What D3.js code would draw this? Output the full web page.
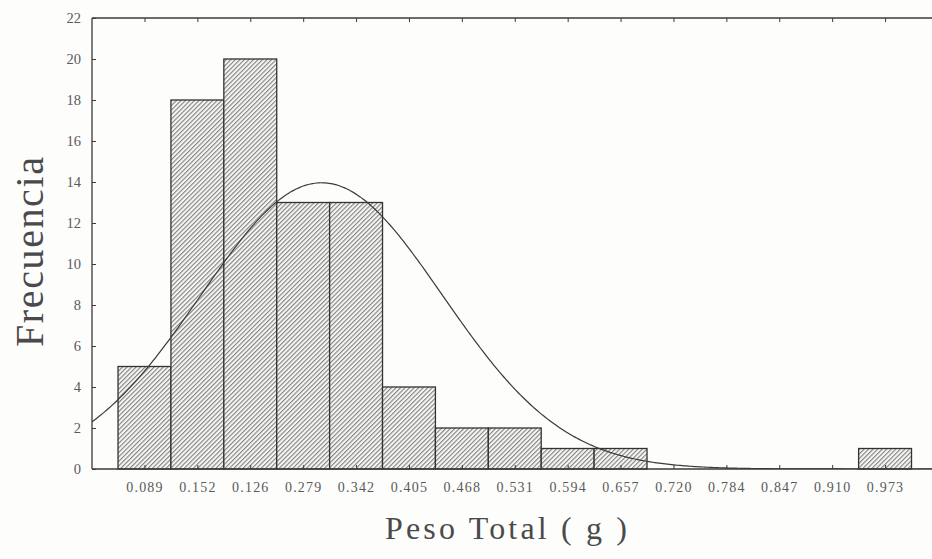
<!DOCTYPE html>
<html>
<head>
<meta charset="utf-8">
<script src="https://cdn.jsdelivr.net/npm/d3@7/dist/d3.min.js"></script>
<style>
  html, body { margin: 0; padding: 0; background: #fdfdfc; }
  svg { display: block; }
  text { font-family: "Liberation Serif", "DejaVu Serif", serif; }
</style>
</head>
<body>
<svg id="chart" width="932" height="559"></svg>
<script>
// Histogram of total weight (g), 15 classes
const binLabels = ["0.089","0.152","0.126","0.279","0.342","0.405","0.468","0.531",
                   "0.594","0.657","0.720","0.784","0.847","0.910","0.973"];
const counts = [5, 18, 20, 13, 13, 4, 2, 2, 1, 1, 0, 0, 0, 0, 1];
const yTicks = [0, 2, 4, 6, 8, 10, 12, 14, 16, 18, 20, 22];

// class layout in data units (class width and first lower bound)
const binWidth = 0.063;
const firstEdge = 0.0575;

// fitted normal curve parameters
const fitMean = 0.300;
const fitSd = 0.144;

const svg = d3.select("#chart");
const plotLeft = 92, plotRight = 932, plotTop = 18, plotBottom = 469;

const x = d3.scaleLinear().domain([0.0265, 1.0269]).range([plotLeft, plotRight]);
const y = d3.scaleLinear().domain([0, 22]).range([plotBottom, plotTop]);

const bins = counts.map((c, i) => ({
  x0: firstEdge + i * binWidth,
  x1: firstEdge + (i + 1) * binWidth,
  count: c,
  label: binLabels[i]
}));

// diagonal hatching for the bars
const defs = svg.append("defs");
const pat = defs.append("pattern")
  .attr("id", "hatch")
  .attr("patternUnits", "userSpaceOnUse")
  .attr("width", 3.2).attr("height", 3.2)
  .attr("patternTransform", "rotate(45)");
pat.append("rect").attr("width", 3.2).attr("height", 3.2).attr("fill", "#f6f6f4");
pat.append("line").attr("x1", 0.6).attr("y1", 0).attr("x2", 0.6).attr("y2", 3.2)
  .attr("stroke", "#6e6e6e").attr("stroke-width", 0.95);

defs.append("clipPath").attr("id", "plotClip")
  .append("rect").attr("x", plotLeft).attr("y", plotTop)
  .attr("width", plotRight - plotLeft).attr("height", plotBottom - plotTop);

// bars
svg.append("g").selectAll("rect")
  .data(bins.filter(d => d.count > 0))
  .join("rect")
  .attr("x", d => x(d.x0))
  .attr("y", d => y(d.count))
  .attr("width", d => x(d.x1) - x(d.x0))
  .attr("height", d => y(0) - y(d.count))
  .attr("fill", "url(#hatch)")
  .attr("stroke", "#333")
  .attr("stroke-width", 1.3);

// normal curve scaled to counts
const total = d3.sum(counts);
const density = v => total * binWidth / (fitSd * Math.sqrt(2 * Math.PI)) *
  Math.exp(-0.5 * ((v - fitMean) / fitSd) ** 2);
const [d0, d1] = x.domain();
const xs = d3.range(0, 401).map(i => d0 + (d1 - d0) * i / 400);
svg.append("path")
  .datum(xs)
  .attr("clip-path", "url(#plotClip)")
  .attr("fill", "none")
  .attr("stroke", "#3a3a3a")
  .attr("stroke-width", 1.2)
  .attr("d", d3.line().x(v => x(v)).y(v => y(density(v))).curve(d3.curveMonotoneX));

// frame lines
const frame = svg.append("g").attr("stroke", "#3a3a3a").attr("stroke-width", 1.3);
frame.append("line").attr("x1", plotLeft).attr("x2", plotRight).attr("y1", plotBottom).attr("y2", plotBottom);
frame.append("line").attr("x1", plotLeft).attr("x2", plotRight).attr("y1", plotTop).attr("y2", plotTop);
frame.append("line").attr("x1", plotLeft).attr("x2", plotLeft).attr("y1", plotTop).attr("y2", plotBottom);

// y axis (ticks pointing inward)
const yAxis = d3.axisLeft(y).tickValues(yTicks).tickSizeInner(-4).tickSizeOuter(0).tickPadding(11);
const gy = svg.append("g").attr("transform", `translate(${plotLeft},0)`).call(yAxis);
gy.select(".domain").remove();
gy.selectAll(".tick line").attr("stroke", "#3a3a3a");
gy.selectAll(".tick text")
  .attr("fill", "#5a5a5a").attr("font-size", 14.5)
  .style("font-family", "'Liberation Serif', serif");

// x axis: class midpoints, inward ticks at bottom and top
const mids = bins.map(d => (d.x0 + d.x1) / 2);
const xAxis = d3.axisBottom(x).tickValues(mids)
  .tickFormat((d, i) => binLabels[i]).tickSizeInner(-4).tickSizeOuter(0).tickPadding(13);
const gx = svg.append("g").attr("transform", `translate(0,${plotBottom})`).call(xAxis);
gx.select(".domain").remove();
gx.selectAll(".tick line").attr("stroke", "#3a3a3a");
gx.selectAll(".tick text")
  .attr("fill", "#5a5a5a").attr("font-size", 14)
  .attr("letter-spacing", 1.2)
  .style("font-family", "'Liberation Serif', serif");

const xTop = d3.axisTop(x).tickValues(mids).tickFormat("").tickSizeInner(-4).tickSizeOuter(0);
const gt = svg.append("g").attr("transform", `translate(0,${plotTop})`).call(xTop);
gt.select(".domain").remove();
gt.selectAll(".tick line").attr("stroke", "#3a3a3a");

// axis titles
svg.append("text")
  .attr("x", 506).attr("y", 539)
  .attr("text-anchor", "middle")
  .attr("font-size", 32)
  .attr("fill", "#4a4a4a")
  .attr("textLength", 242).attr("lengthAdjust", "spacing")
  .text("Peso Total ( g )");

svg.append("text")
  .attr("transform", "translate(43,252) rotate(-90)")
  .attr("text-anchor", "middle")
  .attr("font-size", 40)
  .attr("fill", "#4a4a4a")
  .attr("textLength", 190).attr("lengthAdjust", "spacing")
  .text("Frecuencia");
</script>
</body>
</html>
